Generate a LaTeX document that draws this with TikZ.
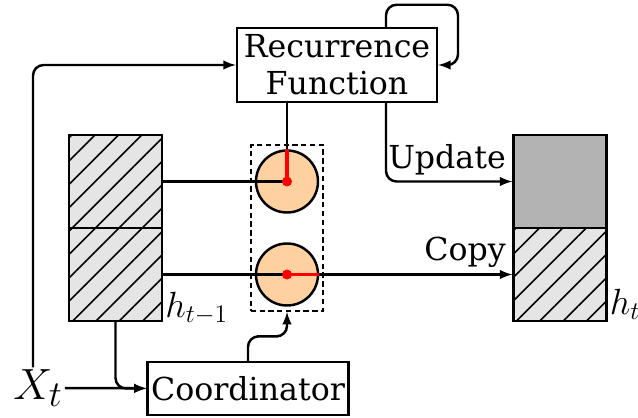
\documentclass[tikz,border=0pt]{standalone}
\usepackage{fontspec}
\setmainfont{DejaVu Serif}
\usetikzlibrary{patterns.meta,fit,calc}
\definecolor{peach}{RGB}{255,208,160}
\definecolor{cellgray}{RGB}{179,179,179}
\tikzset{
	box/.style={draw, line width=1.4pt, align=center, font=\fontsize{18}{21}\selectfont, inner sep=2pt},
	cell/.style={draw, line width=1.4pt, minimum size=1.86cm, inner sep=0pt},
	hatch/.style={cell, preaction={fill=gray!20}, pattern={Lines[angle=45,distance=9.4pt,line width=0.9pt]}},
	gate/.style={circle, draw, line width=1.4pt, fill=peach, minimum size=1.24cm, inner sep=0pt},
	conn/.style={line width=1.4pt, rounded corners=6pt},
	lbl/.style={font=\fontsize{18}{21}\selectfont, inner sep=3pt},
	mlbl/.style={font=\fontsize{20.74}{24}\selectfont, inner sep=1pt}
}
\begin{document}
\begin{tikzpicture}
	\useasboundingbox (0,0) rectangle (12.76,8.34);
	
		% boxes
		\node[box, minimum width=4cm, minimum height=1.48cm] (rec) at (6.74,7.04) {Recurrence\\Function};
		\node[box, minimum width=3.92cm, minimum height=1.06cm] (coord) at (4.96,0.57) {Coordinator};
		\node[font=\fontsize{24.88}{28}\selectfont, inner sep=1pt] (xt) at (0.76,0.58) {$X_t$};
		
		% memory cells
		\node[hatch] (hpa) at (2.31,4.71) {};
		\node[hatch] (hpb) at (2.31,2.85) {};
		\node[cell, fill=cellgray] (hta) at (11.2,4.71) {};
		\node[hatch] (htb) at (11.2,2.85) {};
		\node[mlbl, anchor=base west] (lhp) at ([yshift=0.1cm]hpb.south east) {$h_{t-1}$};
		\node[mlbl, anchor=base west] (lht) at ([yshift=0.16cm]htb.south east) {$h_t$};
		
		% gates
		\node[gate] (ga) at (5.74,4.71) {};
		\node[gate] (gb) at (5.74,2.85) {};
		\node[draw, line width=1.4pt, dash pattern=on 3pt off 2pt, fit=(ga)(gb), inner sep=0.08cm] (dash) {};
		
		% connectors
		\draw[conn] (hpa) -- (ga.center);
		\draw[conn] (hpb) -- (gb.center);
		\draw[conn] (rec.south -| ga) -- (ga.north);
		\draw[conn, -latex] (gb.east) -- (htb.west) node[lbl, pos=1, above left] {Copy};
		\draw[conn, -latex] ([xshift=0.98cm]rec.south) |- (hta.west) node[lbl, pos=1, above left] {Update};
		\draw[conn, -latex] ([xshift=0.98cm]rec.north) |- ++(1.44,0.44) |- (rec.east);
		\draw[conn, -latex] ([xshift=-0.1cm]xt.north) |- (rec.west);
		\draw[conn, -latex] (xt) -- (coord);
		\draw[conn, -latex] (hpb.south) |- (coord.west);
		\draw[conn, -latex] (coord.north) |- ($(coord.north)!.5!(dash.south)$) -| (dash.south);
		
		% red marks
		\draw[red, line width=1.8pt] (ga.center) -- (ga.north);
		\draw[red, line width=1.8pt] (gb.center) -- (gb.east);
		\fill[red] (ga) circle (0.1);
		\fill[red] (gb) circle (0.1);
		
\end{tikzpicture}
\end{document}
